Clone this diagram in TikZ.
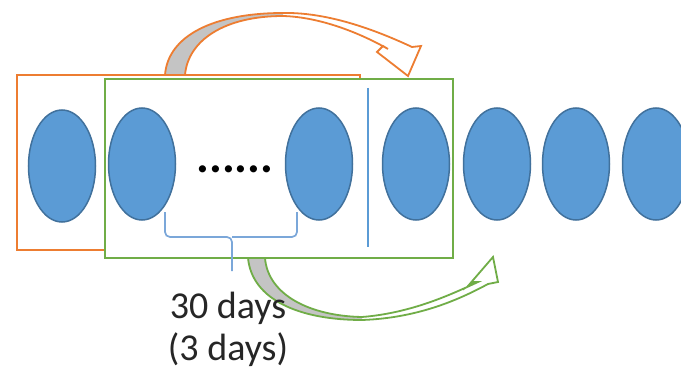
\documentclass[tikz,border=0pt]{standalone}
\usepackage{fontspec}
\setmainfont{Carlito}
\usetikzlibrary{shapes.geometric}
\definecolor{winorange}{HTML}{ED7D31}
\definecolor{wingreen}{HTML}{70AD47}
\definecolor{ovalfill}{HTML}{5B9BD5}
\definecolor{ovalline}{HTML}{41719C}
\definecolor{bracecol}{HTML}{7BA7D9}
\definecolor{backside}{HTML}{C4C4C4}
\definecolor{labeltext}{HTML}{262626}
\begin{document}
\begin{tikzpicture}[x=1pt,y=-1pt,
  oval/.style={ellipse, draw=ovalline, fill=ovalfill, line width=1.5pt,
    minimum width=67pt, minimum height=112pt, inner sep=0pt},
  frame/.style={rectangle, draw, line width=2pt, fill=white, inner sep=0pt},
  bandarrow/.style={line width=1.8pt, line join=miter, fill=none},
  label/.style={font=\fontsize{38}{42}\selectfont, text=labeltext, anchor=base, inner sep=0pt}]
\clip (0,0) rectangle (681,369);
\fill[white] (0,0) rectangle (681,369);

% windows
\node[frame, draw=winorange, minimum width=343pt, minimum height=175pt] (wold) at (188.5,162.5) {};
\node[frame, draw=wingreen, minimum width=348pt, minimum height=179pt] (wnew) at (279,168.5) {};

% sample ovals
\node[oval] (e1) at (62,166) {};
\node[oval] (e2) at (142,164) {};
\node[oval] (e3) at (319,164) {};
\node[oval] (e4) at (416,164) {};
\node[oval] (e5) at (497,164) {};
\node[oval] (e6) at (576,164) {};
\node[oval] (e7) at (656,164) {};

\node[font=\bfseries\fontsize{48}{48}\selectfont, anchor=base, inner sep=0pt] (dots) at (235,172) {......};

% split line
\coordinate (sa) at (368,88);
\coordinate (sb) at (368,247);
\draw[ovalfill, line width=1.6pt] (sa) -- (sb);

% brace under the window
\draw[bracecol, line width=1.7pt, rounded corners=5pt]
  (165,212) |- (232,237) -- (232,271);
\draw[bracecol, line width=1.7pt, rounded corners=5pt]
  (297,212) |- (232,237);

% orange curved arrow
\fill[backside] (165,75) .. controls (168,35) and (215,13) .. (283,13)
  -- (283,16) .. controls (225,16) and (188,40) .. (185,75) -- cycle;
\path[bandarrow, draw=winorange]
  (165,75) .. controls (168,35) and (215,13) .. (283,13)
  .. controls (330,12) and (380,32) .. (412,47)
  -- (421,46) -- (408,76) -- (377,52) -- (383,46) -- (388,49)
  .. controls (360,33) and (320,17) .. (283,16)
  .. controls (225,16) and (188,40) .. (185,75) -- cycle;

% green curved arrow
\fill[backside] (248,258) .. controls (252,300) and (300,320) .. (362,320)
  -- (362,317) .. controls (310,316) and (268,295) .. (265,258) -- cycle;
\path[bandarrow, draw=wingreen]
  (248,258) .. controls (252,300) and (300,320) .. (362,320)
  .. controls (420,318) and (462,298) .. (488,284)
  -- (498,282) -- (493,257) -- (468,286) -- (474,282) -- (478,282)
  .. controls (452,294) and (412,313) .. (362,317)
  .. controls (310,316) and (268,295) .. (265,258) -- cycle;

% labels
\node[label] (l1) at (228,318) {30 days};
\node[label] (l2) at (228,360) {(3 days)};
\end{tikzpicture}
\end{document}
